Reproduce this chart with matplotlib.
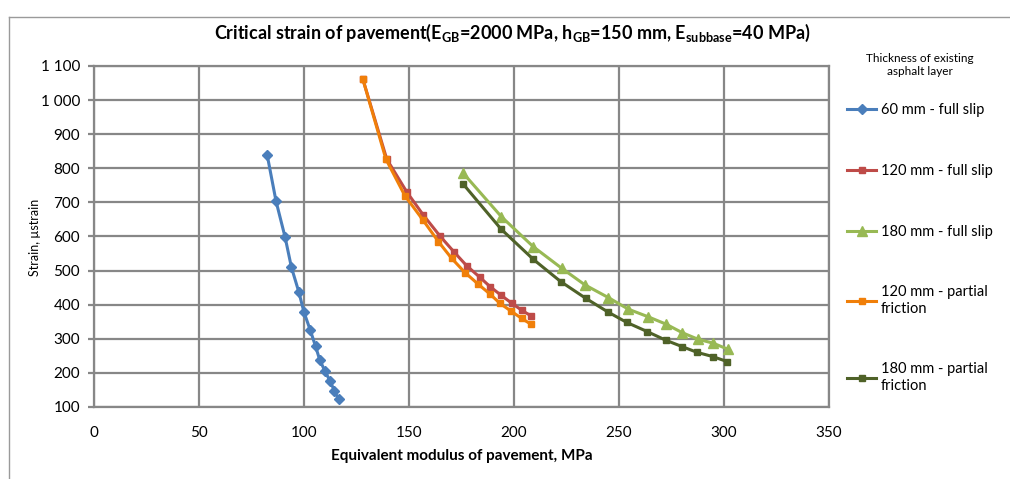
import matplotlib
matplotlib.use("Agg")
import matplotlib.pyplot as plt
from matplotlib.lines import Line2D
from matplotlib.ticker import FixedLocator, FuncFormatter

# ================= DATA =================
x_60_slip = [82.5, 86.7, 91, 94, 97.5, 100, 103, 105.5, 107.5, 110, 112.5, 114.5, 116.5]
y_60_slip = [838, 703, 598, 510, 438, 378, 325, 278, 238, 205, 175, 147, 122]

x_120_slip = [128, 139.4, 148.9, 156.8, 164.8, 171.4, 177.5, 183.8, 188.6, 194, 199, 203.6, 207.9]
y_120_slip = [1062, 827, 731, 663, 601, 555, 514, 480, 453, 427, 404, 384, 368]

x_180_slip = [175.9, 194, 209.2, 222.7, 233.8, 244.9, 254.4, 263.7, 272.4, 280.1, 287.5, 294.9, 302]
y_180_slip = [785, 658, 570, 507, 458, 421, 387, 365, 343, 318, 299, 287, 269]

x_120_part = [128, 139, 148, 156.8, 164, 170.3, 176.7, 183, 188.6, 193.3, 198.4, 203.6, 208]
y_120_part = [1062, 827, 720, 647, 585, 536, 494, 460, 431, 404, 382, 360, 343]

x_180_part = [175.9, 193.8, 209.2, 222.2, 234.1, 244.9, 253.7, 263.5, 272.2, 280.1, 287.3, 294.6, 301.6]
y_180_part = [753, 622, 533, 468, 419, 378, 348, 321, 296, 277, 260, 248, 233]

x_ticks = [0, 50, 100, 150, 200, 250, 300, 350]
y_ticks = [100, 200, 300, 400, 500, 600, 700, 800, 900, 1000, 1100]

series = [
    (x_60_slip, y_60_slip, "60 mm - full slip", "#4A7EBB", "D", 5),
    (x_120_slip, y_120_slip, "120 mm - full slip", "#BE4B48", "s", 5),
    (x_180_slip, y_180_slip, "180 mm - full slip", "#98B954", "^", 7),
    (x_120_part, y_120_part, "120 mm - partial\nfriction", "#F07F09", "s", 5),
    (x_180_part, y_180_part, "180 mm - partial\nfriction", "#4F6228", "s", 5),
]

# ================= STYLE =================
plt.rcParams["font.family"] = ["Lato", "DejaVu Sans"]
plt.rcParams["mathtext.default"] = "regular"
grid_c = "#878787"

fig = plt.figure(figsize=(10.10, 4.79), dpi=100)
ax = fig.add_axes([94 / 1010, 1 - 407 / 479, (829 - 94) / 1010, (407 - 66) / 479])

for xs, ys, lab, col, mk, ms in series:
    ax.plot(xs, ys, color=col, lw=2.2, marker=mk, ms=ms, mec=col, mfc=col, label=lab)

ax.set_xlim(0, 350)
ax.set_ylim(100, 1100)
ax.xaxis.set_major_locator(FixedLocator(x_ticks))
ax.yaxis.set_major_locator(FixedLocator(y_ticks))
ax.yaxis.set_major_formatter(FuncFormatter(lambda v, p: f"{int(v):,}".replace(",", " ")))
ax.grid(True, color=grid_c, lw=1.6)
ax.set_axisbelow(True)
for s in ax.spines.values():
    s.set_color(grid_c)
    s.set_linewidth(1.6)
ax.tick_params(axis="y", length=4, color=grid_c, width=1.6, labelsize=11, pad=6)
ax.tick_params(axis="x", length=0, labelsize=11, pad=14)

ax.set_xlabel("Equivalent modulus of pavement, MPa", fontsize=11, fontweight="bold", labelpad=6)
fig.text(35 / 1010, 1 - 237 / 479, "Strain, µstrain", rotation=90, ha="center", va="center", fontsize=9)

fig.text(512 / 1010, 1 - 33 / 479,
         r"Critical strain of pavement(E$_{GB}$=2000 MPa, h$_{GB}$=150 mm, E$_{subbase}$=40 MPa)",
         ha="center", va="center", fontsize=13, fontweight="bold")

leg = ax.legend(loc="upper left", bbox_to_anchor=(840 / 1010, 1 - 46 / 479),
                bbox_transform=fig.transFigure, frameon=False, fontsize=10.5,
                title="Thickness of existing\nasphalt layer", title_fontsize=8.5,
                labelspacing=3.2, handlelength=2.0, handletextpad=0.3, borderpad=0)
leg.get_title().set_multialignment("center")
leg._legend_box.sep = 19

# outer chart border
fig.add_artist(Line2D([9 / 1010, 9 / 1010], [0, 1 - 17 / 479], transform=fig.transFigure, color="#9a9a9a", lw=1))
fig.add_artist(Line2D([9 / 1010, 1], [1 - 17 / 479, 1 - 17 / 479], transform=fig.transFigure, color="#9a9a9a", lw=1))

fig.savefig("out.png", dpi=100)
